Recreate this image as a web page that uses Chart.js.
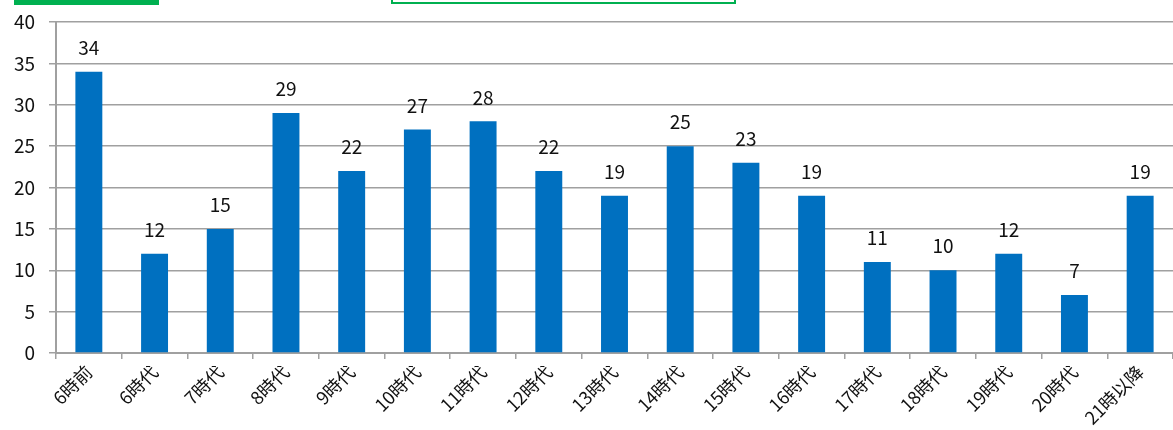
<!DOCTYPE html>
<html>
<head>
<meta charset="utf-8">
<script src="https://cdn.jsdelivr.net/npm/chart.js@4.4.0/dist/chart.umd.min.js"></script>
<style>
    html, body { margin: 0; padding: 0; background: #fff; }
    #wrap { position: relative; width: 1173px; height: 430px; }
    .deco-fill { position: absolute; left: 14px; top: 0; width: 145px; height: 5px; background: #00B050; }
    .deco-box { position: absolute; left: 391px; top: -10px; width: 341px; height: 12px; border: 2px solid #00B050; border-top: none; }
</style>
</head>
<body>
<div id="wrap">
    <canvas id="chart" width="1173" height="430"></canvas>
    <div class="deco-fill"></div>
    <div class="deco-box"></div>
</div>
<script>
const categories = ['6時前', '6時代', '7時代', '8時代', '9時代', '10時代', '11時代', '12時代', '13時代',
    '14時代', '15時代', '16時代', '17時代', '18時代', '19時代', '20時代', '21時以降'];
const counts = [34, 12, 15, 29, 22, 27, 28, 22, 19, 25, 23, 19, 11, 10, 12, 7, 19];
const yTicks = [0, 5, 10, 15, 20, 25, 30, 35, 40];

const FONT = '"Noto Sans CJK JP", "Noto Sans", sans-serif';

// draws the value above each bar
const valueLabels = {
    id: 'valueLabels',
    afterDatasetsDraw(chart) {
        const ctx = chart.ctx;
        const meta = chart.getDatasetMeta(0);
        ctx.save();
        ctx.font = '19px ' + FONT;
        ctx.fillStyle = '#111';
        ctx.textAlign = 'center';
        ctx.textBaseline = 'middle';
        meta.data.forEach((bar, i) => {
            ctx.fillText(counts[i], bar.x, bar.y - 24);
        });
        ctx.restore();
    }
};

new Chart(document.getElementById('chart'), {
    type: 'bar',
    data: {
        labels: categories,
        datasets: [{
            data: counts,
            backgroundColor: '#0070C0',
            borderWidth: 0,
            barPercentage: 0.41,
            categoryPercentage: 1.0
        }]
    },
    options: {
        responsive: false,
        animation: false,
        layout: { padding: { top: 22, right: 0, left: 0, bottom: 0 } },
        plugins: { legend: { display: false }, tooltip: { enabled: false } },
        scales: {
            x: {
                offset: true,
                grid: {
                    offset: true,
                    drawOnChartArea: false,
                    color: '#A0A0A0',
                    lineWidth: 1.5,
                    tickLength: 6
                },
                border: { color: '#A0A0A0', width: 2 },
                ticks: {
                    color: '#111',
                    font: { family: FONT, size: 18 },
                    minRotation: 45,
                    maxRotation: 45,
                    autoSkip: false,
                    padding: 2
                },
                afterFit(scale) { scale.height = 77; }
            },
            y: {
                min: 0,
                max: 40,
                afterBuildTicks(scale) { scale.ticks = yTicks.map(v => ({ value: v })); },
                grid: {
                    color: '#A0A0A0',
                    lineWidth: 1.5,
                    tickLength: 7
                },
                border: { color: '#A0A0A0', width: 2 },
                ticks: {
                    color: '#111',
                    font: { family: FONT, size: 19 },
                    padding: 14
                },
                afterFit(scale) {
                    scale.width = 56;
                    scale.paddingTop = 0;
                    scale.paddingBottom = 0;
                }
            }
        }
    },
    plugins: [valueLabels]
});
</script>
</body>
</html>
